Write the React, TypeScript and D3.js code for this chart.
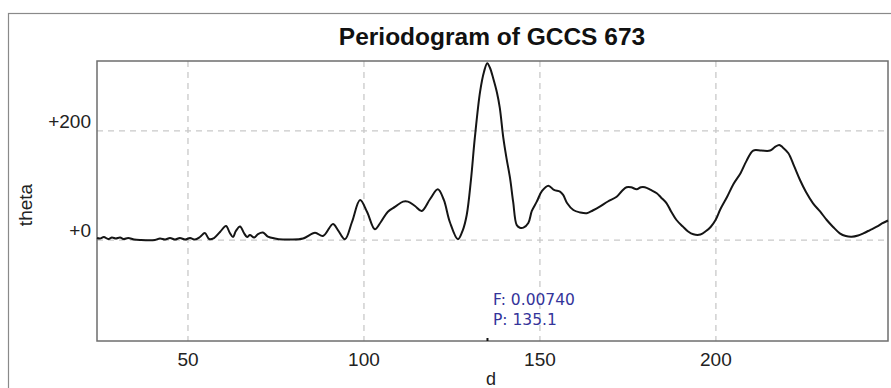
import React, { useEffect, useRef } from 'react';
import * as d3 from 'd3';

// trace (period d, theta)
const periods = [
  24.15, 25.0, 26.1, 27.3, 28.4, 29.5, 30.7, 31.8, 33.0, 34.7, 36.4, 40.6, 42.05, 43.5, 44.9, 46.3,
  47.7, 49.2, 50.6, 52.0, 53.4, 54.8, 56.0, 57.4, 59.1, 60.8, 61.9, 62.8, 63.6, 64.8, 65.9, 66.8,
  67.6, 68.8, 69.9, 71.3, 72.7, 74.7, 77.0, 79.0, 82.7, 86.1, 88.35, 91.2, 92.6, 94.6, 96.6, 98.9,
  100.9, 103.1, 104.8, 106.8, 108.8, 111.1, 112.5, 114.5, 116.4, 118.8, 121.0, 122.7, 124.4, 126.7,
  128.1, 129.2, 130.4, 131.5, 133.0, 134.1, 135.03, 135.8, 136.7, 137.8, 138.6, 139.6, 140.5, 141.5,
  142.4, 143.4, 144.3, 145.3, 146.7, 147.7, 149.1, 150.6, 152.4, 154.0, 155.7, 156.6, 157.7, 159.5,
  161.4, 163.3, 165.0, 167.0, 169.3, 171.8, 173.3, 174.6, 175.9, 177.5, 178.7, 179.8, 181.5, 183.2,
  184.4, 186.0, 187.2, 188.8, 190.6, 192.1, 193.6, 195.6, 197.2, 198.5, 199.9, 201.3, 203.2, 205.0,
  207.0, 208.7, 210.6, 212.9, 215.4, 216.8, 218.0, 219.0, 220.6, 222.2, 223.9, 225.6, 227.6, 229.6,
  231.5, 233.3, 235.2, 236.9, 238.6, 240.4, 241.9, 243.8, 245.7, 247.2, 248.9
];
const theta = [
  3.7, 2.8, 5.5, 1.8, 4.6, 2.8, 4.6, 1.8, 3.7, 0.9, 0, 0, 2.8, 0.9, 3.7, 0.9,
  3.7, 0.9, 3.7, 0.9, 5.5, 12.8, 1.8, 3.7, 14.7, 25.7, 12.8, 5.5, 16.5, 24.8, 12.8, 5.5,
  9.2, 4.6, 11.0, 13.8, 6.4, 2.8, 0.9, 0.9, 2.8, 13.4, 7.3, 29.4, 18.3, 1.3, 33, 73.4,
  51.4, 19.6, 33, 51.9, 60.6, 70.3, 70.3, 62.4, 53.2, 75.2, 93, 73.4, 33, 1.3,
  18.3, 45.9, 110, 187, 272, 308, 324, 315.6, 296.7, 269.7, 242, 187, 150, 113.8,
  69.7, 27.5, 22.6, 22.6, 31.2, 53.2, 70.3, 89.9, 99.6, 91.7, 88.6, 82.6, 67.9, 55,
  50.5, 49, 54.1, 61.1, 70.6, 79.4, 89.9, 96.7, 96.7, 93, 96.7, 96.7, 91.7, 85.7,
  78, 67.3, 53.2, 36.7, 24.8, 15.6, 10.5, 10.1, 16.5, 23.9, 36.7, 56.9, 79.4, 102.8,
  122.4, 145, 163.9, 163.9, 163.9, 170.6, 174.3, 169.7, 159, 135.8, 110, 88, 67.3, 52.3,
  36.7, 23.9, 12.3, 7.3, 6.1, 8.3, 12.3, 18.3, 24.4, 30.3, 35.8
];
const xTicks = [50, 100, 150, 200];
const yTicks = [0, 200];
const chartTitle = 'Periodogram of GCCS 673';
const bestFreq = 0.0074;
const bestPeriod = 135.1;

const W = 891;
const H = 388;

export default function App() {
  const svgRef = useRef<SVGSVGElement>(null);

  useEffect(() => {
    const svg = d3.select(svgRef.current);
    svg.selectAll('*').remove();

    const left = 97, right = 888, top = 61, bottom = 341;
    const x = d3.scaleLinear().domain([24.15, 248.9]).range([left, right]);
    const y = d3.scaleLinear().domain([-185, 328]).range([bottom, top]);

    svg.append('rect').attr('width', W).attr('height', H).attr('fill', '#fff');

    // outer panel frame
    svg.append('rect')
      .attr('x', 8.5).attr('y', 13.5)
      .attr('width', W + 10).attr('height', H + 10)
      .attr('fill', 'none').attr('stroke', '#8a8a8a').attr('stroke-width', 1.2);

    svg.append('text')
      .attr('x', 492).attr('y', 45)
      .attr('text-anchor', 'middle')
      .attr('font-family', 'Liberation Sans, Arial, sans-serif')
      .attr('font-weight', 'bold').attr('font-size', 24.5)
      .attr('fill', '#111')
      .text(chartTitle);

    // grid
    const grid = svg.append('g').attr('stroke', '#c9c9c9').attr('stroke-width', 1.3).attr('stroke-dasharray', '6,5');
    grid.selectAll('line.v').data(xTicks).enter().append('line')
      .attr('x1', d => x(d)).attr('x2', d => x(d)).attr('y1', top).attr('y2', bottom);
    grid.selectAll('line.h').data(yTicks).enter().append('line')
      .attr('x1', left).attr('x2', right).attr('y1', d => y(d)).attr('y2', d => y(d));

    // plot frame
    svg.append('rect')
      .attr('x', left).attr('y', top)
      .attr('width', right - left).attr('height', bottom - top)
      .attr('fill', 'none').attr('stroke', '#6e6e6e').attr('stroke-width', 1.5);

    const font = 'Liberation Sans, Arial, sans-serif';

    svg.selectAll('text.xt').data(xTicks).enter().append('text')
      .attr('x', d => x(d)).attr('y', 366)
      .attr('text-anchor', 'middle')
      .attr('font-family', font).attr('font-size', 19).attr('fill', '#222')
      .text(d => d);

    svg.selectAll('text.yt').data(yTicks).enter().append('text')
      .attr('x', 91).attr('y', d => y(d) - 3)
      .attr('text-anchor', 'end')
      .attr('font-family', font).attr('font-size', 19).attr('fill', '#222')
      .text(d => `+${d}`);

    svg.append('text')
      .attr('transform', 'translate(32,205) rotate(-90)')
      .attr('text-anchor', 'middle')
      .attr('font-family', font).attr('font-size', 19).attr('fill', '#222')
      .text('theta');

    svg.append('text')
      .attr('x', 491).attr('y', 385)
      .attr('text-anchor', 'middle')
      .attr('font-family', font).attr('font-size', 18).attr('fill', '#222')
      .text('d');

    // periodogram curve
    const pts = periods.map((p, i) => [p, theta[i]] as [number, number]);
    const line = d3.line<[number, number]>()
      .x(d => x(d[0])).y(d => y(d[1]))
      .curve(d3.curveCatmullRom.alpha(0.5));
    svg.append('path')
      .attr('d', line(pts))
      .attr('fill', 'none').attr('stroke', '#151515').attr('stroke-width', 2)
      .attr('stroke-linejoin', 'round');

    // marker of the best period on the bottom axis
    svg.append('line')
      .attr('x1', x(bestPeriod)).attr('x2', x(bestPeriod))
      .attr('y1', bottom - 3).attr('y2', bottom)
      .attr('stroke', '#111').attr('stroke-width', 2);

    const info = svg.append('g')
      .attr('font-family', 'DejaVu Sans, Verdana, sans-serif')
      .attr('font-size', 15.5).attr('fill', '#34349a');
    info.append('text').attr('x', 493).attr('y', 305).text(`F: ${bestFreq.toFixed(5)}`);
    info.append('text').attr('x', 493).attr('y', 325).text(`P: ${bestPeriod.toFixed(1)}`);
  }, []);

  return (
    <svg ref={svgRef} width={W} height={H} style={{ display: 'block', position: 'absolute', left: 0, top: 0 }} />
  );
}
